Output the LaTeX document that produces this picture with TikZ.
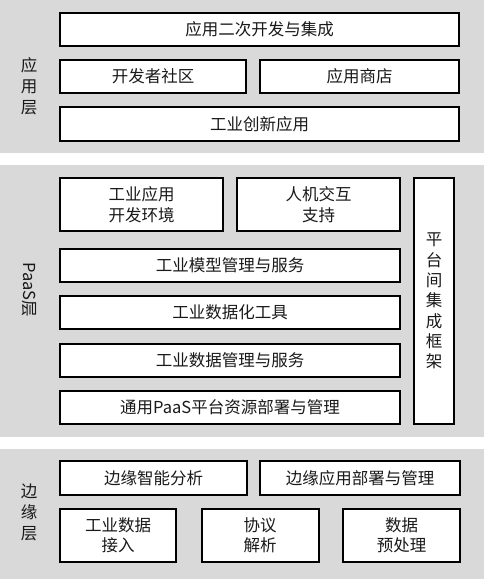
\documentclass[tikz,border=0pt]{standalone}
\usepackage{fontspec}
\setmainfont{Noto Sans CJK SC}
\begin{document}
\begin{tikzpicture}[x=1pt,y=-1pt,
  band/.style={fill=bandgray, draw=none},
  box/.style={draw=black, line width=2pt, fill=white, inner sep=0pt, align=center,
    font=\fontsize{16.5}{20.5}\selectfont, text=black!90},
  lbl/.style={inner sep=0pt, align=center, font=\fontsize{16.5}{21}\selectfont, text=black!90}]
\definecolor{bandgray}{HTML}{D9D9D9}
\useasboundingbox (0,0) rectangle (484,579);
\fill[white] (0,0) rectangle (484,579);
% bands
\fill[band] (0,0) rectangle (484,152.5);
\fill[band] (0,165) rectangle (484,437);
\fill[band] (0,449) rectangle (484,579);
% application layer
\node[lbl] (lapp) at (29,86) {应\\用\\层};
\node[box, minimum width=399pt, minimum height=33pt] (a1) at (259.5,29.5) {应用二次开发与集成};
\node[box, minimum width=186pt, minimum height=33pt] (a2) at (153,76.5) {开发者社区};
\node[box, minimum width=199pt, minimum height=33pt] (a3) at (359.5,76.5) {应用商店};
\node[box, minimum width=399pt, minimum height=34pt] (a4) at (259.5,124) {工业创新应用};
% PaaS layer
\node[lbl, rotate=-90] (lpaas) at (29,290) {PaaS层};
\node[box, minimum width=163pt, minimum height=53pt] (p1) at (141.5,204.5) {工业应用\\开发环境};
\node[box, minimum width=163pt, minimum height=53pt] (p2) at (318.5,204.5) {人机交互\\支持};
\node[box, minimum width=40pt, minimum height=246pt, font=\fontsize{16.5}{20.3}\selectfont] (p3) at (434,301) {平\\台\\间\\集\\成\\框\\架};
\node[box, minimum width=340pt, minimum height=33pt] (p4) at (230,265.5) {工业模型管理与服务};
\node[box, minimum width=340pt, minimum height=33pt] (p5) at (230,312) {工业数据化工具};
\node[box, minimum width=340pt, minimum height=33pt] (p6) at (230,360) {工业数据管理与服务};
\node[box, minimum width=340pt, minimum height=33pt] (p7) at (230,407) {通用PaaS平台资源部署与管理};
% edge layer
\node[lbl] (ledge) at (29,512) {边\\缘\\层};
\node[box, minimum width=187pt, minimum height=34pt] (e1) at (153.5,478) {边缘智能分析};
\node[box, minimum width=200pt, minimum height=34pt] (e2) at (360,478) {边缘应用部署与管理};
\node[box, minimum width=116pt, minimum height=53pt] (e3) at (118,535) {工业数据\\接入};
\node[box, minimum width=117pt, minimum height=53pt] (e4) at (260,535) {协议\\解析};
\node[box, minimum width=117pt, minimum height=53pt] (e5) at (401.5,535) {数据\\预处理};
\end{tikzpicture}
\end{document}
